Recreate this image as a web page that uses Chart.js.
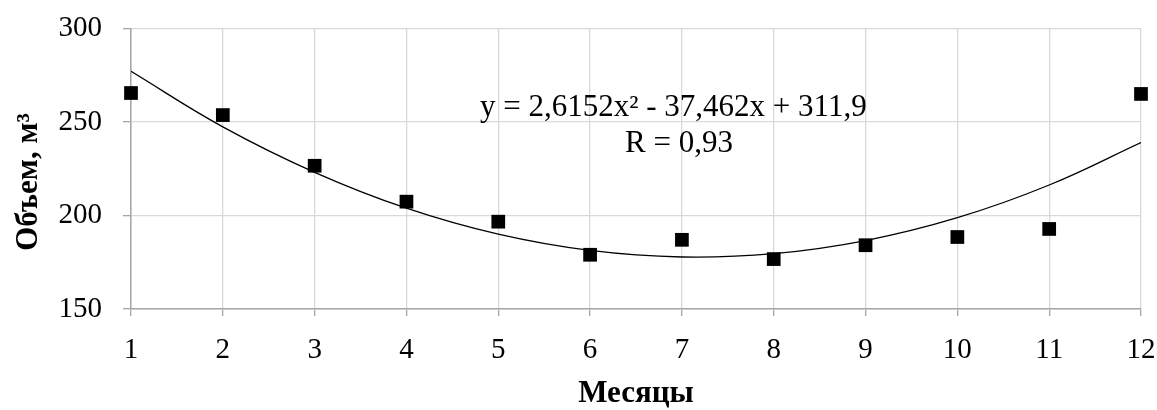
<!DOCTYPE html>
<html>
<head>
<meta charset="utf-8">
<script src="https://cdn.jsdelivr.net/npm/chart.js@4"></script>
<style>
  html, body { margin: 0; padding: 0; background: #ffffff; }
  #wrap { width: 1157px; height: 410px; }
</style>
</head>
<body>
<div id="wrap"><canvas id="c" width="1157" height="410"></canvas></div>
<script>
// Months (x categories)
const months = [1, 2, 3, 4, 5, 6, 7, 8, 9, 10, 11, 12];
const volumes = [265.5, 253.7, 226.6, 207.4, 196.7, 179.0, 187.0, 176.7, 184.1, 188.5, 192.8, 265.0];
// Trend line values at each month
const trendValues = [277.1, 247.4, 223.1, 203.9, 190.0, 181.3, 177.8, 179.6, 186.6, 198.8, 216.3, 239.0];
// Axis tick labels
const yTicks = [150, 200, 250, 300];
const xTicks = months;
// Texts
const equationText = 'y = 2,6152x\u00B2 - 37,462x + 311,9';
const rText = 'R = 0,93';
const yTitle = 'Объем, м\u00B3';
const xTitle = 'Месяцы';

const serif = "'Liberation Serif', 'Times New Roman', serif";

const labelPlugin = {
  id: 'trendLabel',
  afterDatasetsDraw(chart) {
    const ctx = chart.ctx;
    ctx.save();
    ctx.fillStyle = '#000';
    ctx.font = '31px ' + serif;
    ctx.textBaseline = 'alphabetic';
    ctx.textAlign = 'left';
    ctx.fillText(equationText, 480, 116);
    ctx.fillText(rText, 625, 152);
    // y axis title, rotated
    ctx.font = 'bold 31px ' + serif;
    ctx.textAlign = 'center';
    ctx.textBaseline = 'middle';
    ctx.translate(29, 182);
    ctx.rotate(-Math.PI / 2);
    ctx.fillText(yTitle, 0, 0);
    ctx.restore();
  }
};

new Chart(document.getElementById('c'), {
  type: 'scatter',
  data: {
    datasets: [
      {
        label: 'Объем',
        data: months.map((m, i) => ({x: m, y: volumes[i]})),
        pointStyle: 'rect',
        pointRadius: 9.7,
        pointHoverRadius: 9.7,
        backgroundColor: '#000',
        borderColor: '#000',
        borderWidth: 0,
        showLine: false,
        clip: false,
        order: 1
      },
      {
        label: 'Тренд',
        data: months.map((m, i) => ({x: m, y: trendValues[i]})),
        showLine: true,
        pointRadius: 0,
        borderColor: '#000',
        borderWidth: 1.3,
        tension: 0.4,
        fill: false,
        order: 2
      }
    ]
  },
  options: {
    responsive: false,
    devicePixelRatio: 1,
    animation: false,
    layout: { padding: { top: 28.5, right: 16, bottom: 0, left: 0 } },
    plugins: {
      legend: { display: false },
      tooltip: { enabled: false }
    },
    scales: {
      x: {
        type: 'linear',
        min: 1,
        max: 12,
        afterBuildTicks(scale) { scale.ticks = xTicks.map(v => ({value: v})); },
        afterFit(scale) { scale.height = 101; scale.paddingLeft = 0; scale.paddingRight = 0; },
        grid: { color: '#d9d9d9', lineWidth: 1.3, tickLength: 7, tickColor: '#a6a6a6', drawTicks: true },
        border: { color: '#a6a6a6', width: 1.5 },
        ticks: { color: '#000', font: { family: serif, size: 29 }, padding: 17, maxRotation: 0 },
        title: { display: true, text: xTitle, color: '#000', font: { family: serif, size: 31, weight: 'bold' }, padding: { top: 0, bottom: -3 } }
      },
      y: {
        min: 150,
        max: 300,
        afterBuildTicks(scale) { scale.ticks = yTicks.map(v => ({value: v})); },
        afterFit(scale) { scale.width = 131; scale.paddingTop = 0; scale.paddingBottom = 0; },
        grid: { color: '#d9d9d9', lineWidth: 1.3, tickLength: 8, tickColor: '#a6a6a6' },
        border: { color: '#a6a6a6', width: 1.5 },
        ticks: { color: '#000', font: { family: serif, size: 29 }, padding: 21 },
        title: { display: false }
      }
    }
  },
  plugins: [labelPlugin]
});
</script>
</body>
</html>
